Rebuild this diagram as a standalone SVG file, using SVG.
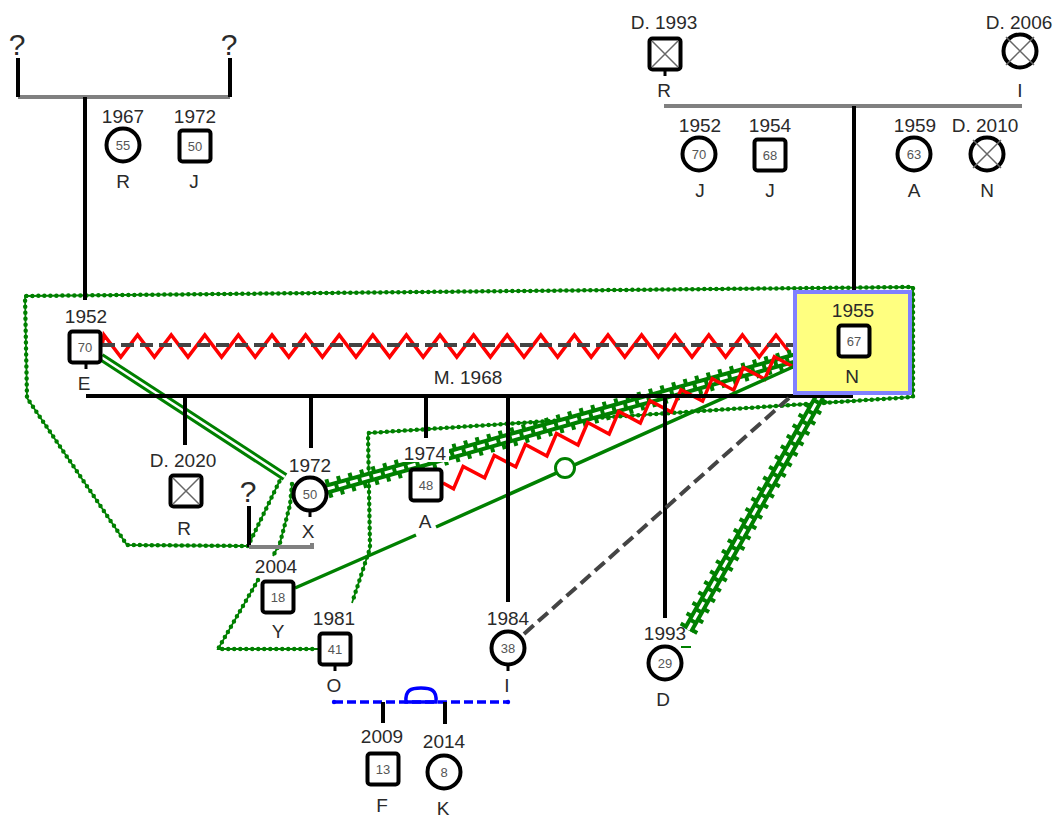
<svg xmlns="http://www.w3.org/2000/svg" xmlns:xlink="http://www.w3.org/1999/xlink" width="1057" height="818" viewBox="0 0 1057 818">
<style>
.t{font-family:"Liberation Sans",Arial,sans-serif;font-size:19px;fill:#2a2a2a;text-anchor:middle}
.q{font-size:30px}
.age{font-family:"Liberation Sans",Arial,sans-serif;font-size:13px;fill:#555;text-anchor:middle}
.sq,.ci{fill:#fff;stroke:#000;stroke-width:4}
.dx{stroke:#666;stroke-width:1.5}
.fam{stroke:#000;stroke-width:4;fill:none}
.uni{stroke:#808080;stroke-width:4;fill:none}
.tick{stroke:#000;stroke-width:3}
.dot{fill:none;stroke:#008000;stroke-width:4.5;stroke-dasharray:0 6;stroke-linecap:round;stroke-linejoin:round}
.dotl{fill:none;stroke:#008000;stroke-width:1.8}
.bg{stroke:#008000;stroke-width:11;fill:none}
.bw{stroke:#fff;stroke-width:3;stroke-dasharray:8 4;fill:none}
.bt{stroke:#008000;stroke-width:19;stroke-dasharray:4 8;fill:none}
.red{fill:none;stroke:#f00;stroke-width:3.5}
.gd{fill:none;stroke:#444;stroke-width:4;stroke-dasharray:13 6}
.blue{fill:none;stroke:#0000ff;stroke-width:3.5}
.wbg{fill:#fff}
</style>
<defs>
<path id="pa" d="M282,476 L248,546 L127,545 L27,398 L25,296 L913,287 L913,397 L368,433 L370,548 L352,603"/>
<path id="pb1" d="M292,484 L290,505 L280,543 L273,556"/>
<path id="pb2" d="M258,580 L218,649 L318,649"/>
<path id="xn" d="M327,489 L795,358"/>
<path id="dn" d="M688,630 L820,396"/>
</defs>

<g id="connectors">
<use xlink:href="#pa" class="dotl"/><use xlink:href="#pa" class="dot"/>
<use xlink:href="#pb1" class="dotl"/><use xlink:href="#pb1" class="dot"/>
<use xlink:href="#pb2" class="dotl"/><use xlink:href="#pb2" class="dot"/>

<path class="red" d="M102,346 L104,335 l16.8,22 l16.8,-22 l16.8,22 l16.8,-22 l16.8,22 l16.8,-22 l16.8,22 l16.8,-22 l16.8,22 l16.8,-22 l16.8,22 l16.8,-22 l16.8,22 l16.8,-22 l16.8,22 l16.8,-22 l16.8,22 l16.8,-22 l16.8,22 l16.8,-22 l16.8,22 l16.8,-22 l16.8,22 l16.8,-22 l16.8,22 l16.8,-22 l16.8,22 l16.8,-22 l16.8,22 l16.8,-22 l16.8,22 l16.8,-22 l16.8,22 l16.8,-22 l16.8,22 l16.8,-22 l16.8,22 l16.8,-22 l16.8,22 l16.8,-22 l14,18"/>
<path class="gd" d="M102,345 L795,345"/>

<path d="M101,357 L285,477" stroke="#008000" stroke-width="8.5"/>
<path d="M101,357 L285,477" stroke="#fff" stroke-width="2.5"/>

<use xlink:href="#xn" class="bt"/><use xlink:href="#xn" class="bg"/><use xlink:href="#xn" class="bw"/>

<path class="red" transform="translate(443,483) rotate(-19.4)" d="M0,0 l8,9 l16.5,-18 l16.5,18 l16.5,-18 l16.5,18 l16.5,-18 l16.5,18 l16.5,-18 l16.5,18 l16.5,-18 l16.5,18 l16.5,-18 l16.5,18 l16.5,-18 l16.5,18 l16.5,-18 l16.5,18 l16.5,-18 l16.5,18 l16.5,-18 l16.5,18 l16.5,-18 l16.5,18 l2,-9"/>

<path d="M295,588 L416,535 M436,527 L795,366" stroke="#008000" stroke-width="3.5" fill="none"/>
<circle cx="565" cy="468" r="9.5" fill="#fff" stroke="#008000" stroke-width="3"/>

<use xlink:href="#dn" class="bt"/><use xlink:href="#dn" class="bg"/><use xlink:href="#dn" class="bw"/>
<path d="M681,647 L691,647" stroke="#008000" stroke-width="2"/>

<path class="uni" d="M18,97 L230,97"/>
<path class="fam" d="M18,58 L18,97 M230,58 L230,97 M85,97 L85,300"/>
<path class="uni" d="M664,106 L1022,106"/>
<path class="fam" d="M854,106 L854,292"/>
<path class="fam" d="M86,396 L853,396"/>
<path class="fam" d="M185,396 L185,445 M311,396 L311,448 M426,396 L426,438 M508,396 L508,602 M665,396 L665,618"/>
<path class="fam" d="M249,506 L249,547"/>
<path class="uni" d="M249,547 L312,547 L312,543"/>
<path class="blue" stroke-dasharray="9 4" d="M334,702 L508,702"/>
<circle cx="334" cy="702" r="2.2" fill="#00f"/><circle cx="508" cy="702" r="2.2" fill="#00f"/>
<path class="blue" stroke-width="4" d="M406,702 C405,690 411,688 421,688 C431,688 437,690 436,702 Z"/>
<path class="fam" d="M383,702 L383,723 M445,702 L445,724"/>

<path class="gd" stroke-dasharray="12 10" d="M524,634 L789,398"/>
</g>

<g id="q1"><text class="t q" x="17" y="55">?</text></g>
<g id="q2"><text class="t q" x="229" y="55">?</text></g>

<g id="n_R1"><text class="t" x="123" y="123">1967</text><circle class="ci" cx="123" cy="145" r="16.5"/><text class="age" x="123" y="149.5">55</text><text class="t" x="123" y="188">R</text></g>
<g id="n_J1"><text class="t" x="195" y="123">1972</text><rect class="sq" x="179.5" y="130.5" width="31" height="31" rx="3"/><text class="age" x="195" y="150.5">50</text><text class="t" x="194" y="188">J</text></g>

<g id="n_Rg"><text class="t" x="664" y="29">D. 1993</text><rect class="sq" x="649.5" y="38.5" width="31" height="31" rx="3"/><path class="dx" d="M652,41 L678,67 M678,41 L652,67"/><path class="tick" d="M665,70 L665,76"/><text class="t" x="664" y="97">R</text></g>
<g id="n_Ig"><text class="t" x="1019" y="29">D. 2006</text><circle class="ci" cx="1020" cy="51" r="16.5"/><path class="dx" d="M1006,37 L1034,65 M1034,37 L1006,65"/><text class="t" x="1020" y="97">I</text></g>

<g id="n_J2"><text class="t" x="700" y="132">1952</text><circle class="ci" cx="699" cy="154" r="16.5"/><text class="age" x="699" y="158.5">70</text><text class="t" x="700" y="197">J</text></g>
<g id="n_J3"><text class="t" x="770" y="132">1954</text><rect class="sq" x="754.5" y="139.5" width="31" height="31" rx="3"/><text class="age" x="770" y="159.5">68</text><text class="t" x="770" y="197">J</text></g>
<g id="n_A1"><text class="t" x="915" y="132">1959</text><circle class="ci" cx="914" cy="154" r="16.5"/><text class="age" x="914" y="158.5">63</text><text class="t" x="914" y="197">A</text></g>
<g id="n_N1"><text class="t" x="985" y="132">D. 2010</text><circle class="ci" cx="987" cy="154" r="16.5"/><path class="dx" d="M973,140 L1001,168 M1001,140 L973,168"/><text class="t" x="987" y="197">N</text></g>

<g id="n_E"><text class="t" x="86" y="323">1952</text><rect class="sq" x="69.5" y="331.5" width="31" height="31" rx="3"/><text class="age" x="85" y="351.5">70</text><path class="tick" d="M86,364 L86,369"/><text class="t" x="84" y="390">E</text></g>

<g id="n_N"><rect x="795" y="292" width="115" height="101" fill="#ffff80" stroke="#8080ff" stroke-width="4"/><text class="t" x="853" y="317">1955</text><rect class="sq" x="838.5" y="325.5" width="31" height="31" rx="3"/><text class="age" x="854" y="345.5">67</text><text class="t" x="852" y="383">N</text></g>

<g id="lbl_m"><text class="t" x="468" y="384">M. 1968</text></g>

<g id="n_R2"><text class="t" x="183" y="467">D. 2020</text><rect class="sq" x="170.5" y="475.5" width="31" height="31" rx="3"/><path class="dx" d="M173,478 L199,504 M199,478 L173,504"/><text class="t" x="184" y="535">R</text></g>
<g id="n_X"><text class="t" x="310" y="472">1972</text><circle class="ci" cx="310" cy="494" r="16.5"/><text class="age" x="310" y="498.5">50</text><path class="tick" d="M310,512 L310,517"/><text class="t" x="308" y="538">X</text></g>
<g id="q3"><text class="t q" x="248" y="502">?</text></g>
<g id="n_A"><rect class="wbg" x="402" y="445" width="47" height="17"/><text class="t" x="425" y="460">1974</text><rect class="sq" x="410.5" y="469.5" width="31" height="31" rx="3"/><text class="age" x="426" y="489.5">48</text><text class="t" x="425" y="528">A</text></g>
<g id="n_Y"><rect class="wbg" x="254" y="557" width="46" height="17"/><text class="t" x="276" y="573">2004</text><rect class="sq" x="262.5" y="581.5" width="31" height="31" rx="3"/><text class="age" x="278" y="601.5">18</text><text class="t" x="278" y="638">Y</text></g>
<g id="n_O"><text class="t" x="334" y="625">1981</text><rect class="sq" x="319.5" y="633.5" width="31" height="31" rx="3"/><text class="age" x="335" y="653.5">41</text><path class="tick" d="M335,666 L335,671"/><text class="t" x="334" y="692">O</text></g>
<g id="n_I"><text class="t" x="508" y="625">1984</text><circle class="ci" cx="508" cy="648" r="16.5"/><text class="age" x="508" y="652.5">38</text><path class="tick" d="M508,666 L508,671"/><text class="t" x="507" y="692">I</text></g>
<g id="n_D"><text class="t" x="665" y="640">1993</text><circle class="ci" cx="665" cy="663" r="16.5"/><text class="age" x="665" y="667.5">29</text><text class="t" x="663" y="706">D</text></g>
<g id="n_F"><text class="t" x="382" y="743">2009</text><rect class="sq" x="367.5" y="753.5" width="31" height="31" rx="3"/><text class="age" x="383" y="773.5">13</text><text class="t" x="382" y="812">F</text></g>
<g id="n_K"><text class="t" x="444" y="748">2014</text><circle class="ci" cx="444" cy="772" r="16.5"/><text class="age" x="444" y="776.5">8</text><text class="t" x="443" y="815">K</text></g>
</svg>
